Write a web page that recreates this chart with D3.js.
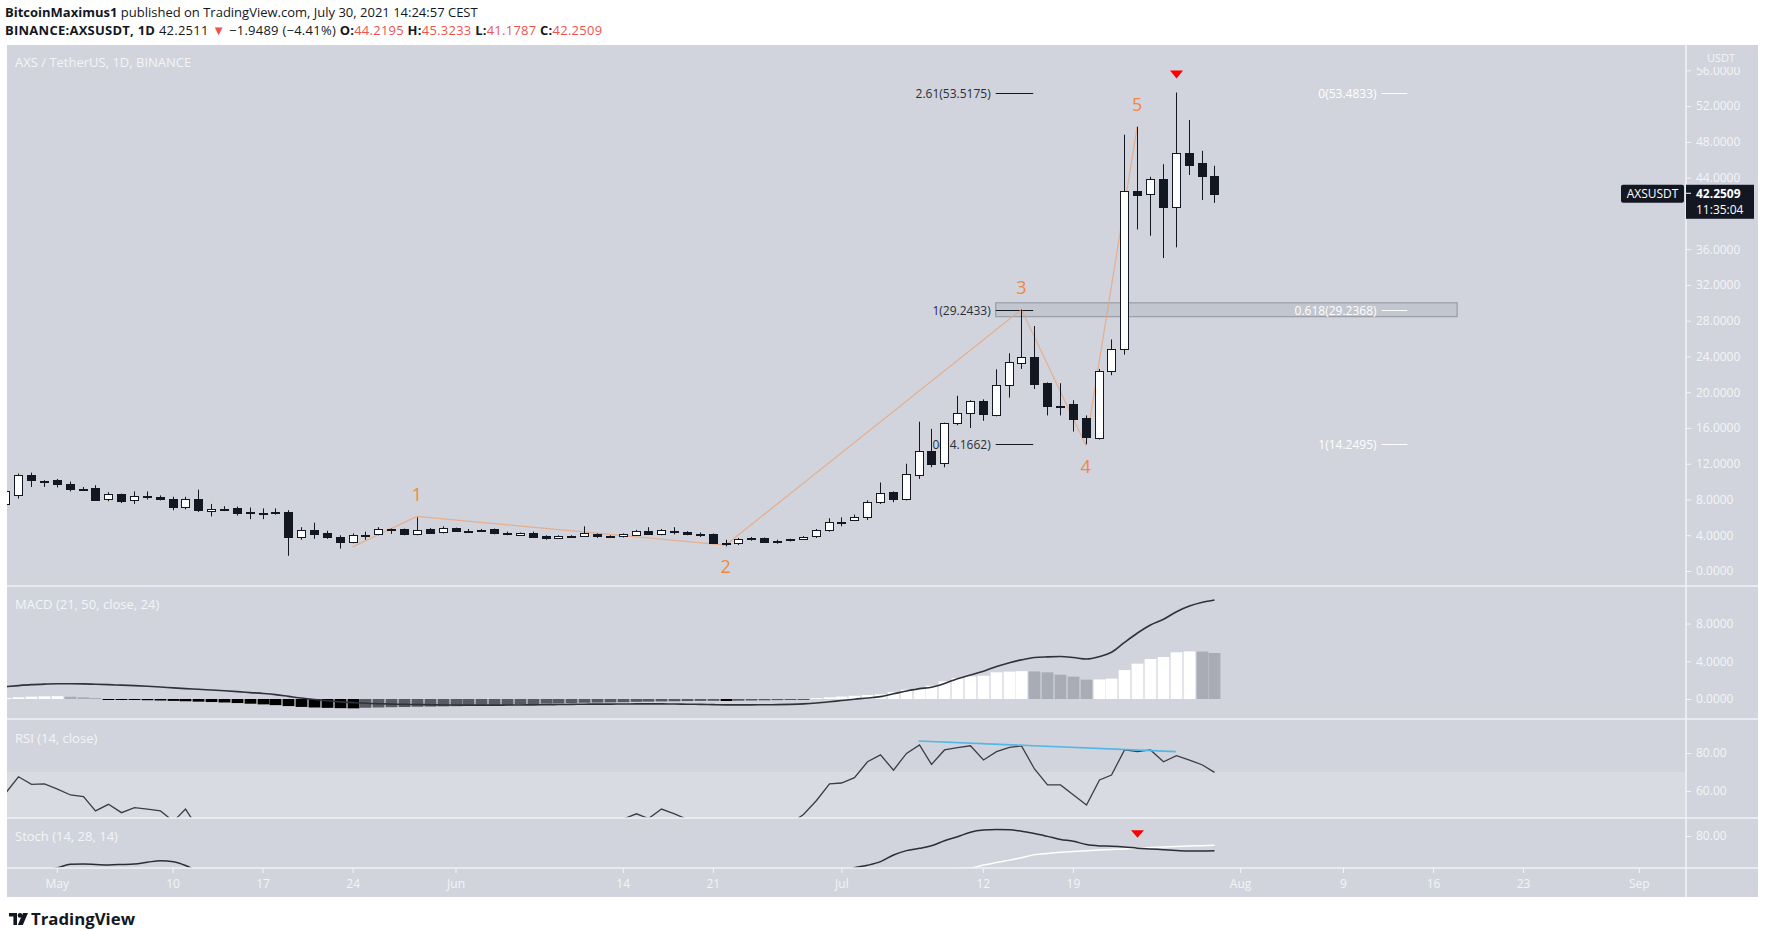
<!DOCTYPE html>
<html><head><meta charset="utf-8">
<script src="https://cdnjs.cloudflare.com/ajax/libs/d3/7.8.5/d3.min.js"></script>
<style>
html,body{margin:0;padding:0;background:#ffffff;}
svg{display:block;}
</style></head><body>
<svg id="c" width="1765" height="931"></svg>
<script>
// ---------------- DATA (daily candles, 2021-04-27 .. 2021-07-30) ----------------
const firstDay = "2021-04-27";
const open = [7.6, 8.5, 10.7, 10.1,
 10.2, 9.75, 9.2, 9.25, 8.0, 8.6, 8.0, 8.4, 8.3, 8.0,
 7.15, 8.0, 6.7, 6.95, 7.05, 6.62, 6.52, 6.6, 6.65, 3.85,
 4.6, 4.3, 3.85, 3.3, 4.0, 4.1, 4.7, 4.7, 4.1, 4.7,
 4.4, 4.78, 4.52, 4.62, 4.7, 4.22, 4.05, 4.3, 3.95, 3.72,
 3.92, 3.9, 4.1, 3.92, 3.85, 4.1, 4.5, 4.1, 4.45, 4.35,
 4.12, 4.15, 3.15, 3.1, 3.7, 3.7, 3.37, 3.55, 3.6, 3.9,
 4.6, 5.52, 5.7, 6.07, 7.64, 8.8, 8.0, 10.8, 13.46, 12.05,
 16.5, 17.64, 19.0, 17.45, 20.8, 23.3, 23.97, 21.0, 18.5, 18.65,
 17.08, 14.9, 22.37, 24.8, 42.5, 42.2, 43.9, 40.8, 46.8, 45.6,
 44.2195];
const high = [9.2, 10.9, 11.0, 10.15,
 10.3, 10.0, 9.4, 9.6, 8.8, 8.65, 8.9, 8.9, 8.45, 8.3,
 8.3, 9.1, 7.5, 7.25, 7.2, 7.1, 7.0, 7.0, 6.8, 4.9,
 5.4, 4.5, 4.0, 4.2, 4.4, 4.9, 4.75, 4.75, 6.0, 4.8,
 5.0, 4.85, 4.7, 4.7, 4.75, 4.4, 4.3, 4.4, 4.0, 4.0,
 4.0, 5.0, 4.2, 4.0, 4.2, 4.6, 4.9, 4.7, 4.9, 4.45,
 4.3, 4.2, 3.5, 3.7, 3.8, 3.75, 3.5, 3.6, 3.9, 4.7,
 5.9, 6.0, 6.3, 7.9, 9.9, 8.9, 12.0, 16.7, 15.9, 16.6,
 19.6, 19.1, 19.2, 22.56, 24.35, 29.24, 27.4, 21.1, 21.0, 19.1,
 17.4, 22.6, 25.9, 48.8, 49.7, 44.1, 45.5, 53.52, 50.45, 47.0,
 45.3233];
const low = [7.3, 8.1, 9.4, 9.4,
 9.35, 8.9, 9.0, 7.9, 7.8, 7.6, 7.5, 8.0, 7.9, 6.8,
 6.9, 6.6, 6.1, 6.7, 6.2, 5.8, 5.8, 6.3, 1.7, 3.5,
 3.6, 3.6, 2.5, 3.1, 3.5, 4.0, 4.15, 4.0, 4.0, 4.2,
 4.2, 4.4, 4.3, 4.4, 4.1, 4.0, 4.0, 3.8, 3.5, 3.6,
 3.7, 3.85, 3.7, 3.7, 3.75, 4.0, 4.1, 4.0, 4.1, 4.0,
 3.8, 3.05, 2.75, 2.9, 3.4, 3.2, 3.05, 3.3, 3.55, 3.7,
 4.4, 5.0, 5.6, 5.7, 7.5, 7.7, 7.9, 10.3, 11.6, 11.6,
 16.3, 16.0, 16.8, 17.3, 19.4, 22.6, 20.36, 17.4, 17.4, 15.6,
 14.17, 14.7, 21.9, 24.2, 38.2, 37.5, 35.0, 36.2, 44.3, 41.5,
 41.1787];
const close = [9.0, 10.7, 10.1, 10.02,
 9.7, 9.2, 9.12, 7.95, 8.6, 7.85, 8.4, 8.34, 8.1, 7.1,
 8.0, 6.8, 6.9, 6.99, 6.45, 6.58, 6.48, 6.54, 3.85, 4.6,
 4.2, 3.85, 3.3, 4.05, 3.95, 4.7, 4.66, 4.1, 4.6, 4.3,
 4.8, 4.5, 4.5, 4.52, 4.2, 4.2, 4.25, 3.9, 3.7, 3.95,
 3.9, 4.2, 3.85, 3.88, 4.1, 4.5, 4.15, 4.6, 4.38, 4.1,
 4.1, 3.1, 3.17, 3.6, 3.55, 3.3, 3.35, 3.4, 3.85, 4.6,
 5.5, 5.5, 6.07, 7.7, 8.7, 8.0, 10.8, 13.46, 12.05, 16.5,
 17.64, 19.0, 17.5, 20.8, 23.35, 23.97, 20.9, 18.46, 18.45, 17.0,
 14.9, 22.37, 24.8, 42.5, 42.0, 43.9, 40.8, 46.8, 45.5, 44.2,
 42.2509];
const macdLine = [1.3, 1.42, 1.52, 1.58,
 1.62, 1.62, 1.6, 1.56, 1.52, 1.47, 1.42, 1.36, 1.28, 1.18,
 1.1, 1.03, 0.95, 0.87, 0.78, 0.68, 0.58, 0.46, 0.28, 0.1,
 -0.05, -0.18, -0.3, -0.38, -0.45, -0.5, -0.54, -0.57, -0.59, -0.61,
 -0.63, -0.64, -0.65, -0.65, -0.65, -0.64, -0.63, -0.62, -0.61, -0.59,
 -0.57, -0.55, -0.54, -0.54, -0.53, -0.52, -0.52, -0.52, -0.53, -0.55,
 -0.57, -0.6, -0.62, -0.62, -0.62, -0.61, -0.6, -0.57, -0.52, -0.43,
 -0.3, -0.16, -0.02, 0.1, 0.25, 0.55, 0.85, 1.1, 1.25, 1.65,
 2.15, 2.55, 2.95, 3.45, 3.85, 4.15, 4.4, 4.47, 4.5, 4.4,
 4.24, 4.5, 4.95, 6.0, 7.0, 7.85, 8.45, 9.25, 9.85, 10.25,
 10.5];
const macdHist = [0.1, 0.18, 0.25, 0.28,
 0.3, 0.24, 0.18, 0.1, -0.03, -0.06, -0.1, -0.13, -0.16, -0.2,
 -0.24, -0.28, -0.32, -0.37, -0.43, -0.5, -0.57, -0.65, -0.75, -0.84,
 -0.9, -0.94, -0.97, -0.99, -0.93, -0.9, -0.87, -0.85, -0.82, -0.8,
 -0.78, -0.76, -0.74, -0.72, -0.7, -0.66, -0.58, -0.54, -0.5, -0.47,
 -0.44, -0.4, -0.38, -0.36, -0.34, -0.3, -0.28, -0.26, -0.24, -0.22,
 -0.2, -0.19, -0.21, -0.18, -0.16, -0.14, -0.12, -0.09, -0.05, 0.1,
 0.18, 0.26, 0.34, 0.42, 0.5, 0.74, 0.99, 1.17, 1.41, 1.87,
 2.23, 2.4, 2.47, 2.83, 2.9, 2.95, 2.92, 2.83, 2.58, 2.37,
 2.05, 2.07, 2.16, 3.07, 3.75, 4.24, 4.45, 4.95, 5.05, 5.03,
 4.88];
const rsi = [58.8, 67.5, 63.5, 63.7,
 61, 57.9, 57, 49.5, 53, 48.6, 51.2, 50.5, 49.5, 44,
 50.5, 40, 44, 44.5, 42, 42.5, 42, 42.2, 30, 36,
 34, 32, 29, 34, 33.5, 38, 37.8, 35, 38, 36.5,
 39.5, 38, 38, 38.2, 36.5, 36.5, 37, 35, 34, 36,
 35.8, 38, 36, 41, 45.3, 48, 45.5, 50.5, 48, 45,
 45, 37, 37.5, 42, 41.5, 39, 39.5, 43, 47.6, 55,
 63.8, 64.2, 67, 75.4, 79, 71, 79.8, 84.2, 74, 81.6,
 82.8, 83.8, 76.3, 80.7, 83, 83.7, 71.6, 63.2, 63.2, 57.9,
 52.6, 65.8, 68.4, 81.6, 80.7, 81.6, 75.4, 78.6, 76.3, 73.7,
 69.8];
const stochK = [58, 59.5, 61, 62.2,
 63.3, 65.1, 65.2, 65.0, 64.8, 65.0, 65.3, 66.2, 67.0, 66.5,
 64.5, 61, 57, 53, 49, 45, 41, 37, 32, 28,
 24, 21, 19, 18, 18, 19, 20, 21, 22, 23,
 24, 25, 25, 25, 24, 23, 22, 21, 20, 20,
 20, 21, 22, 23, 24, 25, 26, 27, 27, 26,
 25, 24, 24, 25, 27, 30, 34, 39, 45, 51,
 56, 60, 63.3, 64.6, 66.5, 70, 72.3, 73.5, 74.9, 77.5,
 79.6, 82, 83.1, 83.4, 83.3, 82.5, 81.3, 79.8, 78.2, 77.2,
 75.5, 74.8, 74.6, 74.2, 73.6, 73.2, 72.8, 72.4, 72.1, 72.1,
 72.2];
const stochD = [52, 53, 54, 55,
 56, 57, 57.5, 58, 58.5, 59, 59.2, 59.4, 59.6, 59.8,
 59.8, 59, 58, 56, 54, 52, 49, 46, 43, 40,
 37, 34, 31, 29, 27, 25, 24, 23, 22.5, 22,
 22, 22, 22.5, 23, 23, 23, 23, 23, 22.5, 22,
 22, 22, 22, 22, 22.5, 23, 23.5, 24, 24.5, 25,
 25.5, 26, 26, 26.5, 27.5, 29, 31, 34, 37, 41,
 45, 49, 53, 56, 58, 59.5, 60.5, 61.3, 62, 62.5,
 62.9, 63.2, 64.7, 66.0, 67.3, 68.6, 70.2, 70.8, 71.4, 71.9,
 72.3, 72.6, 72.9, 73.2, 73.6, 73.9, 74.2, 74.5, 74.7, 74.9,
 75.1];

// 40.0000 is hidden behind the last-price label in the reference
const priceTicks = [0,4,8,12,16,20,24,28,32,36,44,48,52,56];
const macdTicks = [0,4,8];
const rsiTicks = [60,80];
const stochTicks = [80];
const dateTicks = ["2021-05-01","2021-05-10","2021-05-17","2021-05-24","2021-06-01","2021-06-14","2021-06-21","2021-07-01","2021-07-12","2021-07-19","2021-08-01","2021-08-09","2021-08-16","2021-08-23","2021-09-01"];
const dateTickLabels = ["May","10","17","24","Jun","14","21","Jul","12","19","Aug","9","16","23","Sep"];

const waveDates = ["2021-05-24","2021-05-29","2021-06-22","2021-07-15","2021-07-20","2021-07-24"];
const waveValues = [2.7, 6.1, 2.9, 29.24, 14.1, 49.7];
const waveLabels = ["", "1", "2", "3", "4", "5"];

const fibLeftLabels = ["2.61(53.5175)", "1(29.2433)", "0(14.1662)"];
const fibLeftValues = [53.5175, 29.2433, 14.1662];
const fibRightLabels = ["0(53.4833)", "0.618(29.2368)", "1(14.2495)"];
const fibRightValues = [53.4833, 29.2368, 14.2495];
const fibLeftSpan = ["2021-07-13T00:00Z", "2021-07-15T22:00Z"];
const fibRightSpan = ["2021-08-12T00:00Z", "2021-08-14T00:00Z"];
const zoneSpan = ["2021-07-13T00:00Z", "2021-08-17T21:00Z"];
const zoneValues = [28.45, 30.0];
const rsiTrendDates = ["2021-07-07", "2021-07-27"];
const rsiTrendValues = [86.3, 80.7];
const topSignalDate = "2021-07-27";
const stochSignalDate = "2021-07-24";
const lastPrice = 42.2509;

// ---------------- LAYOUT ----------------
const FONT = '"Open Sans", "Noto Sans", sans-serif';
const BG = "#d1d4dc", AX = "#f3f4f8", DARK = "#131722", RED = "#ef5350";
const chartL = 7, chartR = 1758, plotR = 1686, chartT = 45, chartB = 897;
const pane = {price:[45,586], macd:[586,719], rsi:[719,818], stoch:[818,868]};

const svg = d3.select("#c").attr("font-family", FONT);
const P = s => new Date(s.length === 10 ? s + "T00:00Z" : s);

const x = d3.scaleUtc().domain([P("2021-05-01"), P("2021-09-01")]).range([56.8, 56.8 + 123 * 12.862]);
const yP = d3.scaleLinear().domain([0, 56]).range([571, 571 - 8.94 * 56]);
const yM = d3.scaleLinear().domain([0, 8]).range([699, 699 - 9.43 * 8]);
const yR = d3.scaleLinear().domain([60, 80]).range([791, 753]);
const yS = d3.scaleLinear().domain([60, 80]).range([874, 836]);

const dates = open.map((_, i) => d3.utcDay.offset(P(firstDay), i));
const cx = i => Math.round(x(dates[i])) + 0.5;

// background
svg.append("rect").attr("x", chartL).attr("y", chartT).attr("width", chartR - chartL).attr("height", chartB - chartT).attr("fill", BG);

// clip paths
const defs = svg.append("defs");
Object.entries(pane).forEach(([k, [t, b]]) => {
  defs.append("clipPath").attr("id", "clip-" + k).append("rect")
    .attr("x", chartL).attr("y", t).attr("width", plotR - chartL).attr("height", b - t);
});

// ---------------- HEADER ----------------
const h1 = svg.append("text").attr("x", 5).attr("y", 17).attr("font-size", 13).attr("fill", DARK);
h1.append("tspan").attr("font-weight", "bold").text("BitcoinMaximus1");
h1.append("tspan").text(" published on TradingView.com, July 30, 2021 14:24:57 CEST");
const h2 = svg.append("text").attr("x", 5).attr("y", 35).attr("font-size", 13).attr("fill", DARK)
  .attr("letter-spacing", 0.25);
h2.append("tspan").attr("font-weight", "bold").text("BINANCE:AXSUSDT, 1D");
h2.append("tspan").text(" 42.2511 ");
h2.append("tspan").attr("fill", RED).text("▼");
h2.append("tspan").text(" −1.9489 (−4.41%) ");
[["O:", "44.2195"], ["H:", "45.3233"], ["L:", "41.1787"], ["C:", "42.2509"]].forEach(([k, v], i) => {
  h2.append("tspan").attr("font-weight", "bold").text((i ? " " : "") + k);
  h2.append("tspan").attr("fill", RED).text(v);
});

// ---------------- PRICE PANE ----------------
const gPrice = svg.append("g").attr("clip-path", "url(#clip-price)");

// fib zone rectangle
gPrice.append("rect")
  .attr("x", x(P(zoneSpan[0]))).attr("width", x(P(zoneSpan[1])) - x(P(zoneSpan[0])))
  .attr("y", yP(zoneValues[1])).attr("height", yP(zoneValues[0]) - yP(zoneValues[1]))
  .attr("fill", "rgba(120,124,136,0.16)").attr("stroke", "#9a9da6").attr("stroke-width", 1.2);

// fib labels left (dark)
fibLeftValues.forEach((v, i) => {
  const yy = Math.round(yP(v)) + 0.5;
  gPrice.append("text").attr("x", x(P(fibLeftSpan[0])) - 5).attr("y", yy).attr("dy", "0.35em")
    .attr("text-anchor", "end").attr("font-size", 12).attr("fill", "#2a2e39").text(fibLeftLabels[i]);
  gPrice.append("line").attr("x1", x(P(fibLeftSpan[0]))).attr("x2", x(P(fibLeftSpan[1])))
    .attr("y1", yy).attr("y2", yy).attr("stroke", "#131722").attr("stroke-width", 1);
});
// fib labels right (white)
fibRightValues.forEach((v, i) => {
  const yy = Math.round(yP(v)) + 0.5;
  gPrice.append("text").attr("x", x(P(fibRightSpan[0])) - 5).attr("y", yy).attr("dy", "0.35em")
    .attr("text-anchor", "end").attr("font-size", 12).attr("fill", "#ffffff").text(fibRightLabels[i]);
  gPrice.append("line").attr("x1", x(P(fibRightSpan[0]))).attr("x2", x(P(fibRightSpan[1])))
    .attr("y1", yy).attr("y2", yy).attr("stroke", "#ffffff").attr("stroke-width", 1);
});

// elliott wave line
const wavePts = waveDates.map((d, i) => [x(P(d)), yP(waveValues[i])]);
gPrice.append("path").attr("d", d3.line()(wavePts)).attr("fill", "none")
  .attr("stroke", "#eba57a").attr("stroke-opacity", 0.8).attr("stroke-width", 1.2);

// candles
const gC = gPrice.append("g");
dates.forEach((d, i) => {
  const xc = cx(i);
  const up = close[i] >= open[i];
  gC.append("line").attr("x1", xc).attr("x2", xc).attr("y1", yP(high[i])).attr("y2", yP(low[i]))
    .attr("stroke", DARK).attr("stroke-width", 1);
  const yt = yP(Math.max(open[i], close[i])), yb = yP(Math.min(open[i], close[i]));
  const top = Math.round(yt) + 0.5, hgt = Math.max(1, Math.round(yb - yt));
  gC.append("rect").attr("x", xc - 4).attr("width", 8).attr("y", top).attr("height", hgt)
    .attr("fill", up ? "#ffffff" : DARK).attr("stroke", DARK).attr("stroke-width", 1);
});

// wave labels
waveLabels.forEach((l, i) => {
  if (!l) return;
  const isPeak = i % 2 === 1;
  svg.append("text").attr("x", wavePts[i][0]).attr("y", wavePts[i][1] + (isPeak ? -22 : 22))
    .attr("dy", "0.35em").attr("text-anchor", "middle").attr("font-size", 18)
    .attr("fill", "#f0883e").text(l);
});

// red signal triangle (price)
{
  const i = dates.findIndex(d => +d === +P(topSignalDate));
  const tx = cx(i), ty = yP(high[i]) - 14;
  svg.append("path").attr("d", `M${tx - 6.5},${ty - 8}L${tx + 6.5},${ty - 8}L${tx},${ty}Z`).attr("fill", "#ff0000");
}

svg.append("text").attr("x", 15).attr("y", 62).attr("dy", "0.35em").attr("font-size", 13)
  .attr("fill", AX).text("AXS / TetherUS, 1D, BINANCE");

// ---------------- MACD PANE ----------------
const gM = svg.append("g").attr("clip-path", "url(#clip-macd)");
macdHist.forEach((v, i) => {
  const prev = i ? macdHist[i - 1] : -Infinity;
  let col;
  if (v >= 0) col = v >= prev ? "#ffffff" : "#a9acb5";
  else col = v < prev ? "#000000" : "#585b64";
  const y0 = yM(0), y1 = yM(v);
  gM.append("rect").attr("x", cx(i) - 5.9).attr("width", 11.8)
    .attr("y", Math.min(y0, y1)).attr("height", Math.max(1, Math.abs(y1 - y0))).attr("fill", col);
});
gM.append("path").attr("d", d3.line().x((_, i) => cx(i)).y(v => yM(v)).curve(d3.curveMonotoneX)(macdLine))
  .attr("fill", "none").attr("stroke", "#2f323b").attr("stroke-width", 1.6);
svg.append("text").attr("x", 15).attr("y", 604).attr("dy", "0.35em").attr("font-size", 13)
  .attr("fill", AX).text("MACD (21, 50, close, 24)");

// ---------------- RSI PANE ----------------
const gR = svg.append("g").attr("clip-path", "url(#clip-rsi)");
gR.append("rect").attr("x", chartL).attr("width", plotR - chartL).attr("y", yR(70)).attr("height", yR(30) - yR(70))
  .attr("fill", "#d9dbe2");
gR.append("path").attr("d", d3.line().x((_, i) => cx(i)).y(v => yR(v))(rsi))
  .attr("fill", "none").attr("stroke", "#3a3d46").attr("stroke-width", 1.3);
gR.append("line").attr("x1", x(P(rsiTrendDates[0]))).attr("x2", x(P(rsiTrendDates[1])))
  .attr("y1", yR(rsiTrendValues[0])).attr("y2", yR(rsiTrendValues[1]))
  .attr("stroke", "#52b6e6").attr("stroke-width", 1.6);
svg.append("text").attr("x", 15).attr("y", 738).attr("dy", "0.35em").attr("font-size", 13)
  .attr("fill", AX).text("RSI (14, close)");

// ---------------- STOCH PANE ----------------
const gS = svg.append("g").attr("clip-path", "url(#clip-stoch)");
gS.append("path").attr("d", d3.line().x((_, i) => cx(i)).y(v => yS(v)).curve(d3.curveMonotoneX)(stochD))
  .attr("fill", "none").attr("stroke", "#ffffff").attr("stroke-width", 1.5);
gS.append("path").attr("d", d3.line().x((_, i) => cx(i)).y(v => yS(v)).curve(d3.curveMonotoneX)(stochK))
  .attr("fill", "none").attr("stroke", "#2a2d36").attr("stroke-width", 1.5);
{
  const i = dates.findIndex(d => +d === +P(stochSignalDate));
  const tx = cx(i), ty = yS(stochK[i]) - 10.5;
  svg.append("path").attr("d", `M${tx - 6.5},${ty - 7.5}L${tx + 6.5},${ty - 7.5}L${tx},${ty}Z`).attr("fill", "#ff0000");
}
svg.append("text").attr("x", 15).attr("y", 836).attr("dy", "0.35em").attr("font-size", 13)
  .attr("fill", AX).text("Stoch (14, 28, 14)");

// ---------------- DIVIDERS ----------------
[pane.price[1], pane.macd[1], pane.rsi[1], pane.stoch[1]].forEach(yy => {
  svg.append("line").attr("x1", chartL).attr("x2", chartR).attr("y1", yy).attr("y2", yy)
    .attr("stroke", "#f1f2f6").attr("stroke-width", 1.6);
});
svg.append("line").attr("x1", plotR).attr("x2", plotR).attr("y1", chartT).attr("y2", chartB)
  .attr("stroke", "#f1f2f6").attr("stroke-width", 1.6);

// ---------------- AXES ----------------
function yAxis(scale, ticks, fmt) {
  const g = svg.append("g").attr("transform", `translate(${plotR},0)`)
    .call(d3.axisRight(scale).tickValues(ticks).tickFormat(fmt).tickSize(5).tickPadding(5));
  g.select(".domain").remove();
  g.selectAll(".tick line").attr("stroke", AX);
  g.selectAll(".tick text").attr("fill", AX).attr("font-size", 12).attr("font-family", FONT);
  return g;
}
const gPY = yAxis(yP, priceTicks, d3.format(".4f"));
yAxis(yM, macdTicks, d3.format(".4f"));
yAxis(yR, rsiTicks, d3.format(".2f"));
yAxis(yS, stochTicks, d3.format(".2f"));

// USDT caption, partly covering the top tick label (as in the reference)
svg.append("rect").attr("x", plotR + 1).attr("y", chartT).attr("width", chartR - plotR - 1).attr("height", 22).attr("fill", BG);
svg.append("text").attr("x", 1721).attr("y", 58).attr("dy", "0.35em").attr("text-anchor", "middle")
  .attr("font-size", 11).attr("fill", AX).text("USDT");

// x axis
{
  const g = svg.append("g").attr("transform", `translate(0,${pane.stoch[1]})`)
    .call(d3.axisBottom(x).tickValues(dateTicks.map(P)).tickFormat((d, i) => dateTickLabels[i]).tickSize(5).tickPadding(6));
  g.select(".domain").remove();
  g.selectAll(".tick line").attr("stroke", AX);
  g.selectAll(".tick text").attr("fill", AX).attr("font-size", 12).attr("font-family", FONT);
}

// last price labels
{
  const yy = yP(lastPrice);
  svg.append("rect").attr("x", 1621).attr("y", yy - 8.5).attr("width", 63).attr("height", 18).attr("rx", 2).attr("fill", DARK);
  svg.append("text").attr("x", 1652.5).attr("y", yy + 0.5).attr("dy", "0.35em").attr("text-anchor", "middle")
    .attr("font-size", 12).attr("fill", "#ffffff").text("AXSUSDT");
  svg.append("rect").attr("x", plotR).attr("y", yy - 8.5).attr("width", 68).attr("height", 34).attr("fill", DARK);
  svg.append("line").attr("x1", plotR).attr("x2", plotR + 5).attr("y1", yy).attr("y2", yy).attr("stroke", "#ffffff");
  svg.append("text").attr("x", 1696).attr("y", yy + 0.5).attr("dy", "0.35em").attr("font-size", 12)
    .attr("font-weight", "bold").attr("fill", "#ffffff").text(d3.format(".4f")(lastPrice));
  svg.append("text").attr("x", 1696).attr("y", yy + 16.5).attr("dy", "0.35em").attr("font-size", 12)
    .attr("fill", "#ffffff").text("11:35:04");
}

// ---------------- FOOTER LOGO ----------------
{
  const g = svg.append("g").attr("fill", DARK);
  g.append("path").attr("d", "M9,913h8v12h-3.6v-8.4H9Z");
  g.append("circle").attr("cx", 20).attr("cy", 915.4).attr("r", 2.3);
  g.append("path").attr("d", "M23,913h5l-5.2,12h-5Z");
  svg.append("text").attr("x", 31).attr("y", 924.5).attr("font-size", 16).attr("font-weight", "bold")
    .attr("fill", DARK).attr("textLength", 104).attr("lengthAdjust", "spacingAndGlyphs").text("TradingView");
}
</script>
</body></html>
